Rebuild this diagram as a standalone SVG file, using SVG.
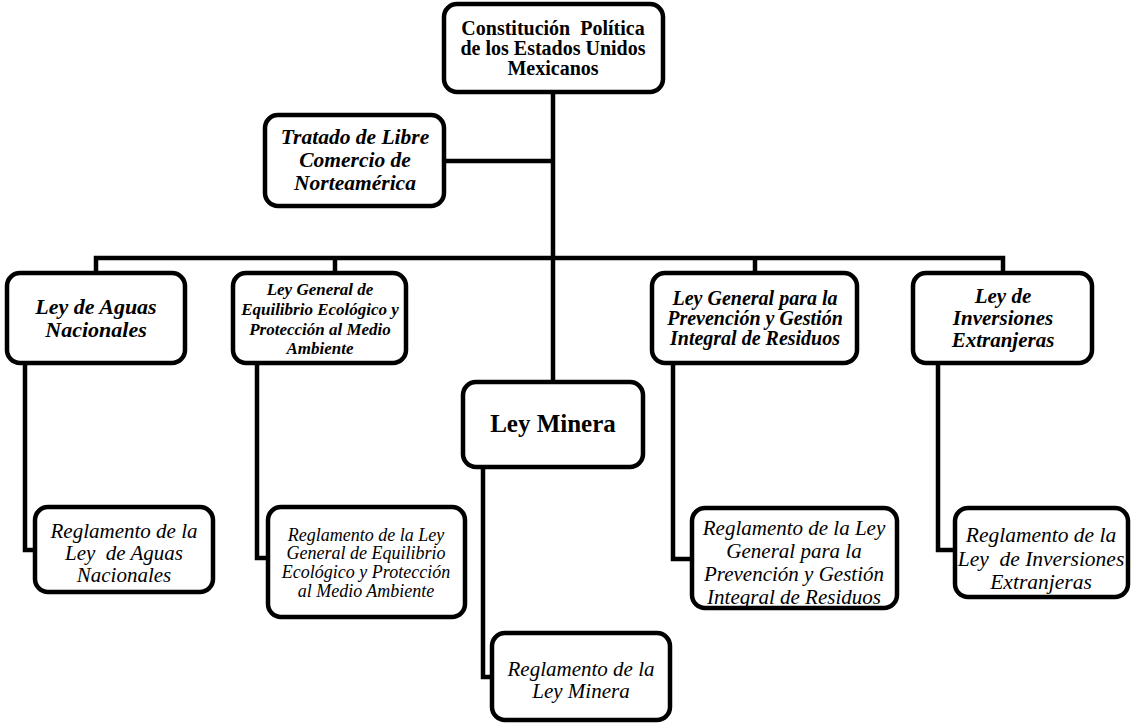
<svg xmlns="http://www.w3.org/2000/svg" width="1131" height="723" viewBox="0 0 1131 723">
<style>
.box{fill:#fff;stroke:#000;stroke-width:4.5}
.ln{fill:none;stroke:#000;stroke-width:4.5;stroke-linejoin:miter}
text{font-family:"Liberation Serif","Times New Roman",serif;fill:#000;text-anchor:middle}
.b{font-weight:bold}
.bi{font-weight:bold;font-style:italic}
.i{font-style:italic}
</style>
<rect width="1131" height="723" fill="#fff"/>
<g id="connectors">
<path class="ln" d="M553 93 V383"/>
<path class="ln" d="M444 161 H553"/>
<path class="ln" d="M96 273 V258 H1003 V273"/>
<path class="ln" d="M335 258 V273"/>
<path class="ln" d="M755 258 V273"/>
<path class="ln" d="M25 363 V550 H35"/>
<path class="ln" d="M257 363 V558 H268"/>
<path class="ln" d="M673 363 V559 H692"/>
<path class="ln" d="M938 363 V550 H955"/>
<path class="ln" d="M483 467 V677 H492"/>
</g>
<g id="constitucion">
<rect class="box" x="444" y="4" width="219" height="88" rx="13"/>
<text class="b" font-size="20"><tspan x="553" y="35">Constitución &#160;Política</tspan><tspan x="553" y="55">de los Estados Unidos</tspan><tspan x="553" y="75">Mexicanos</tspan></text>
</g>
<g id="tratado">
<rect class="box" x="265" y="115" width="179" height="91" rx="13"/>
<text class="bi" font-size="21.5"><tspan x="355" y="144">Tratado de Libre</tspan><tspan x="355" y="167">Comercio de</tspan><tspan x="355" y="190">Norteamérica</tspan></text>
</g>
<g id="aguas">
<rect class="box" x="7" y="273" width="178" height="90" rx="13"/>
<text class="bi" font-size="22"><tspan x="96" y="314">Ley de Aguas</tspan><tspan x="96" y="337">Nacionales</tspan></text>
</g>
<g id="equilibrio">
<rect class="box" x="233" y="273" width="173" height="90" rx="13"/>
<text class="bi" font-size="17"><tspan x="320" y="295">Ley General de</tspan><tspan x="320" y="315">Equilibrio Ecológico y</tspan><tspan x="320" y="335">Protección al Medio</tspan><tspan x="320" y="354">Ambiente</tspan></text>
</g>
<g id="prevencion">
<rect class="box" x="652" y="273" width="205" height="90" rx="13"/>
<text class="bi" font-size="20"><tspan x="755" y="305">Ley General para la</tspan><tspan x="755" y="325">Prevención y Gestión</tspan><tspan x="755" y="345">Integral de Residuos</tspan></text>
</g>
<g id="inversiones">
<rect class="box" x="913" y="273" width="179" height="90" rx="13"/>
<text class="bi" font-size="21"><tspan x="1003" y="303">Ley de</tspan><tspan x="1003" y="325">Inversiones</tspan><tspan x="1003" y="347">Extranjeras</tspan></text>
</g>
<g id="minera">
<rect class="box" x="463" y="382" width="180" height="85" rx="13"/>
<text class="b" font-size="25"><tspan x="553" y="432">Ley Minera</tspan></text>
</g>
<g id="reg-aguas">
<rect class="box" x="35" y="507" width="178" height="85" rx="13"/>
<text class="i" font-size="21"><tspan x="124" y="538">Reglamento de la</tspan><tspan x="124" y="560">Ley &#160;de Aguas</tspan><tspan x="124" y="582">Nacionales</tspan></text>
</g>
<g id="reg-equilibrio">
<rect class="box" x="268" y="507" width="197" height="110" rx="13"/>
<text class="i" font-size="18"><tspan x="366" y="541">Reglamento de la Ley</tspan><tspan x="366" y="559">General de Equilibrio</tspan><tspan x="366" y="578">Ecológico y Protección</tspan><tspan x="366" y="597">al Medio Ambiente</tspan></text>
</g>
<g id="reg-prevencion">
<rect class="box" x="692" y="508" width="205" height="100" rx="13"/>
<text class="i" font-size="21"><tspan x="794" y="535">Reglamento de la Ley</tspan><tspan x="794" y="558">General para la</tspan><tspan x="794" y="581">Prevención y Gestión</tspan><tspan x="794" y="604">Integral de Residuos</tspan></text>
</g>
<g id="reg-inversiones">
<rect class="box" x="955" y="508" width="173" height="89" rx="13"/>
<text class="i" font-size="21.5"><tspan x="1041" y="542">Reglamento de la</tspan><tspan x="1041" y="566">Ley &#160;de Inversiones</tspan><tspan x="1041" y="589">Extranjeras</tspan></text>
</g>
<g id="reg-minera">
<rect class="box" x="492" y="633" width="178" height="87" rx="13"/>
<text class="i" font-size="21"><tspan x="581" y="676">Reglamento de la</tspan><tspan x="581" y="698">Ley Minera</tspan></text>
</g>
</svg>
